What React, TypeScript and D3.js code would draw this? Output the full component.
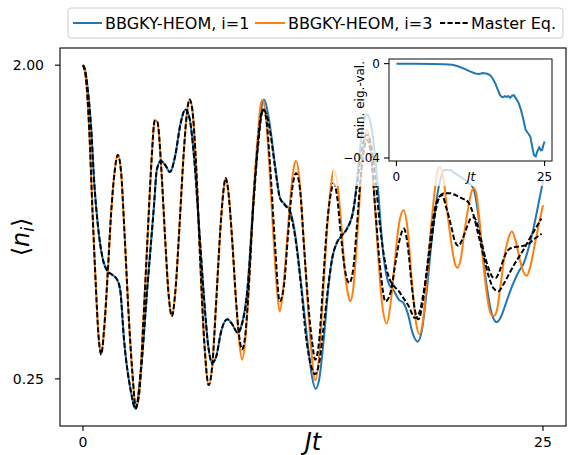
import * as d3 from 'd3';

// <n_i>(Jt), [t, value]
const bbgkyI1: [number, number][] = [
  [0, 2.0], [0.12, 1.93], [0.24, 1.739], [0.43, 1.35], [0.62, 0.903], [0.81, 0.691], [1.06, 0.558], [1.33, 0.511],
  [1.6, 0.498], [1.87, 0.481], [2.03, 0.447], [2.23, 0.324], [2.59, 0.232], [2.86, 0.205], [3.13, 0.258], [3.5, 0.46],
  [3.86, 0.79], [4.01, 0.998], [4.23, 1.06], [4.47, 1.032], [4.72, 0.985], [5.02, 1.103], [5.29, 1.348], [5.56, 1.491],
  [5.78, 1.413], [6.05, 1.067], [6.32, 0.668], [6.59, 0.418], [6.81, 0.31], [7.02, 0.278], [7.24, 0.29], [7.51, 0.343],
  [7.84, 0.371], [8.11, 0.359], [8.41, 0.339], [8.6, 0.354], [8.92, 0.447], [9.28, 0.845], [9.52, 1.22], [9.83, 1.594],
  [10.11, 1.394], [10.44, 1.032], [10.71, 0.828], [10.98, 0.795], [11.25, 0.764], [11.52, 0.659], [11.85, 0.472],
  [12.17, 0.331], [12.45, 0.253], [12.64, 0.234], [12.83, 0.248], [13.1, 0.331], [13.37, 0.478], [13.55, 0.558],
  [13.8, 0.617], [14.02, 0.642], [14.35, 0.677], [14.71, 0.774], [15.0, 1.067], [15.21, 1.348], [15.43, 1.442],
  [15.7, 1.304], [15.97, 0.965], [16.33, 0.565], [16.62, 0.469], [16.88, 0.45], [17.16, 0.423], [17.42, 0.413],
  [17.65, 0.386], [17.92, 0.338], [18.18, 0.32], [18.41, 0.343], [18.68, 0.447], [18.95, 0.625], [19.32, 0.885],
  [19.66, 0.998], [19.93, 0.998], [20.2, 0.978], [20.53, 0.952], [20.85, 0.926], [21.21, 0.885], [21.45, 0.764],
  [21.67, 0.604], [21.94, 0.463], [22.21, 0.386], [22.49, 0.364], [22.75, 0.381], [23.02, 0.418], [23.35, 0.466],
  [23.67, 0.508], [23.94, 0.536], [24.21, 0.593], [24.48, 0.677], [24.76, 0.801], [25.0, 0.926],
];

const bbgkyI3: [number, number][] = [
  [0, 2.0], [0.15, 1.85], [0.34, 1.3], [0.52, 0.75], [0.7, 0.46], [0.84, 0.335], [0.99, 0.294], [1.14, 0.343],
  [1.34, 0.5], [1.52, 0.739], [1.71, 0.978], [1.89, 1.103], [2.06, 0.998], [2.25, 0.668], [2.47, 0.391], [2.68, 0.262],
  [2.87, 0.207], [3.06, 0.229], [3.28, 0.366], [3.5, 0.625], [3.71, 1.032], [3.9, 1.385], [4.04, 1.375], [4.26, 0.998],
  [4.47, 0.625], [4.66, 0.433], [4.83, 0.379], [5.02, 0.447], [5.23, 0.668], [5.45, 1.067], [5.64, 1.442], [5.79, 1.594],
  [5.94, 1.491], [6.16, 0.998], [6.37, 0.547], [6.59, 0.32], [6.83, 0.24], [7.02, 0.271], [7.24, 0.418], [7.46, 0.668],
  [7.62, 0.856], [7.75, 0.946], [7.89, 0.873], [8.11, 0.625], [8.32, 0.418], [8.49, 0.32], [8.65, 0.284], [8.81, 0.32],
  [9.03, 0.478], [9.25, 0.817], [9.46, 1.18], [9.68, 1.561], [9.76, 1.587], [9.9, 1.491], [10.11, 1.067], [10.33, 0.668],
  [10.55, 0.447], [10.69, 0.391], [10.87, 0.447], [11.09, 0.625], [11.31, 0.873], [11.47, 1.025], [11.58, 1.06],
  [11.74, 0.965], [11.96, 0.668], [12.17, 0.447], [12.39, 0.31], [12.62, 0.248], [12.83, 0.29], [13.04, 0.433],
  [13.26, 0.668], [13.48, 0.903], [13.62, 0.998], [13.8, 0.933], [14.02, 0.714], [14.23, 0.511], [14.4, 0.439],
  [14.52, 0.418], [14.67, 0.447], [14.89, 0.625], [15.1, 0.933], [15.27, 1.18], [15.43, 1.304], [15.59, 1.22],
  [15.81, 0.873], [16.02, 0.585], [16.24, 0.418], [16.51, 0.361], [16.73, 0.418], [16.95, 0.547], [17.16, 0.691],
  [17.42, 0.764], [17.65, 0.668], [17.87, 0.478], [18.09, 0.366], [18.29, 0.336], [18.47, 0.366], [18.68, 0.478],
  [18.9, 0.668], [19.12, 0.873], [19.28, 0.998], [19.41, 1.018], [19.6, 0.933], [19.82, 0.739], [20.04, 0.604],
  [20.2, 0.54], [20.36, 0.522], [20.53, 0.554], [20.74, 0.668], [20.96, 0.79], [21.12, 0.867], [21.26, 0.885],
  [21.39, 0.845], [21.55, 0.714], [21.77, 0.529], [21.99, 0.423], [22.15, 0.386], [22.31, 0.379], [22.48, 0.391],
  [22.69, 0.463], [22.91, 0.565], [23.13, 0.637], [23.31, 0.664], [23.51, 0.625], [23.73, 0.554], [23.94, 0.508],
  [24.12, 0.495], [24.32, 0.529], [24.54, 0.604], [24.76, 0.691], [25.0, 0.79],
];

const masterI1: [number, number][] = [
  [0, 2.0], [0.12, 1.93], [0.24, 1.739], [0.43, 1.35], [0.62, 0.903], [0.81, 0.691], [1.06, 0.558], [1.33, 0.511],
  [1.6, 0.498], [1.87, 0.481], [2.03, 0.447], [2.23, 0.324], [2.59, 0.232], [2.86, 0.205], [3.13, 0.258], [3.5, 0.46],
  [3.86, 0.79], [4.01, 0.998], [4.23, 1.06], [4.47, 1.032], [4.72, 0.985], [5.02, 1.103], [5.29, 1.348], [5.56, 1.491],
  [5.78, 1.413], [6.05, 1.067], [6.32, 0.668], [6.59, 0.418], [6.81, 0.31], [7.02, 0.278], [7.24, 0.29], [7.51, 0.343],
  [7.84, 0.371], [8.11, 0.359], [8.41, 0.339], [8.6, 0.354], [8.92, 0.44], [9.28, 0.817], [9.52, 1.18], [9.79, 1.491],
  [10.01, 1.421], [10.22, 1.237], [10.44, 1.012], [10.71, 0.828], [10.98, 0.79], [11.25, 0.754], [11.52, 0.646],
  [11.85, 0.463], [12.12, 0.331], [12.34, 0.28], [12.61, 0.258], [12.83, 0.277], [13.1, 0.361], [13.37, 0.482],
  [13.55, 0.558], [13.8, 0.617], [14.02, 0.642], [14.35, 0.677], [14.67, 0.754], [14.89, 0.903], [15.1, 1.103],
  [15.27, 1.22], [15.43, 1.261], [15.65, 1.18], [15.87, 0.965], [16.14, 0.691], [16.4, 0.547], [16.68, 0.482],
  [16.89, 0.463], [17.16, 0.447], [17.43, 0.426], [17.7, 0.405], [18.05, 0.374], [18.3, 0.391], [18.57, 0.463],
  [18.9, 0.604], [19.17, 0.764], [19.4, 0.839], [19.66, 0.856], [19.95, 0.856], [20.25, 0.845], [20.58, 0.828],
  [20.94, 0.806], [21.23, 0.739], [21.5, 0.646], [21.77, 0.565], [22.04, 0.495], [22.31, 0.456], [22.57, 0.447],
  [22.86, 0.469], [23.18, 0.504], [23.46, 0.536], [23.73, 0.565], [24.0, 0.596], [24.27, 0.633], [24.59, 0.677],
  [24.91, 0.724],
];

const masterI3: [number, number][] = [
  [0, 2.0], [0.15, 1.85], [0.34, 1.3], [0.52, 0.75], [0.7, 0.46], [0.84, 0.335], [0.99, 0.294], [1.14, 0.343],
  [1.34, 0.5], [1.52, 0.739], [1.71, 0.978], [1.89, 1.103], [2.06, 0.998], [2.25, 0.668], [2.47, 0.391], [2.68, 0.262],
  [2.87, 0.207], [3.06, 0.229], [3.28, 0.366], [3.5, 0.625], [3.71, 1.032], [3.9, 1.385], [4.04, 1.375], [4.26, 0.998],
  [4.47, 0.625], [4.66, 0.433], [4.83, 0.379], [5.02, 0.447], [5.23, 0.668], [5.45, 1.067], [5.64, 1.442], [5.79, 1.594],
  [5.94, 1.491], [6.16, 0.998], [6.37, 0.547], [6.59, 0.32], [6.83, 0.24], [7.02, 0.271], [7.24, 0.418], [7.46, 0.668],
  [7.62, 0.856], [7.75, 0.946], [7.89, 0.873], [8.11, 0.625], [8.32, 0.418], [8.49, 0.331], [8.65, 0.304], [8.81, 0.331],
  [9.03, 0.478], [9.25, 0.79], [9.46, 1.126], [9.63, 1.394], [9.79, 1.491], [9.95, 1.413], [10.22, 0.933], [10.44, 0.604],
  [10.69, 0.418], [10.92, 0.463], [11.14, 0.646], [11.36, 0.873], [11.58, 0.978], [11.8, 0.873], [12.01, 0.604],
  [12.23, 0.418], [12.45, 0.32], [12.62, 0.284], [12.83, 0.32], [13.04, 0.463], [13.26, 0.691], [13.48, 0.861],
  [13.62, 0.915], [13.8, 0.845], [14.02, 0.646], [14.23, 0.518], [14.47, 0.472], [14.67, 0.511], [14.89, 0.691],
  [15.1, 0.965], [15.27, 1.141], [15.43, 1.22], [15.65, 1.103], [15.87, 0.79], [16.14, 0.529], [16.44, 0.418],
  [16.73, 0.447], [17.0, 0.547], [17.22, 0.633], [17.44, 0.677], [17.65, 0.604], [17.87, 0.463], [18.03, 0.397],
  [18.23, 0.371], [18.47, 0.418], [18.74, 0.547], [19.01, 0.714], [19.22, 0.807], [19.5, 0.845], [19.77, 0.769],
  [20.04, 0.677], [20.2, 0.625], [20.4, 0.604], [20.63, 0.633], [20.9, 0.691], [21.07, 0.724], [21.25, 0.729],
  [21.45, 0.691], [21.67, 0.617], [21.88, 0.554], [22.1, 0.511], [22.26, 0.491], [22.42, 0.488], [22.64, 0.511],
  [22.86, 0.554], [23.07, 0.585], [23.29, 0.596], [23.56, 0.6], [23.94, 0.604], [24.21, 0.612], [24.54, 0.633],
  [24.93, 0.654],
];

// inset: minimum eigenvalue
const minEig: [number, number][] = [
  [0, 0], [3, -0.0001], [6, -0.0002], [8, -0.0003], [9.5, -0.0005], [10.5, -0.0012], [11.5, -0.0022], [12.3, -0.0032],
  [13.3, -0.0042], [14, -0.0044], [14.6, -0.004], [15.3, -0.0043], [15.8, -0.0048], [16.3, -0.0065], [16.7, -0.0085],
  [17.1, -0.011], [17.5, -0.0135], [17.9, -0.0143], [18.3, -0.0138], [18.6, -0.0141], [18.9, -0.0137], [19.2, -0.0145],
  [19.5, -0.0136], [19.8, -0.0134], [20.2, -0.0148], [20.6, -0.0165], [21.0, -0.0195], [21.4, -0.0235], [21.8, -0.028],
  [22.2, -0.0295], [22.6, -0.031], [22.9, -0.035], [23.2, -0.0388], [23.5, -0.0393], [23.8, -0.037], [24.1, -0.0355],
  [24.4, -0.0368], [24.6, -0.0365], [24.8, -0.0345], [25, -0.033],
];

const xTicks = [0, 25];
const yTicks = [2.0, 0.25];
const insetYTicks = [0, -0.04];
const legendLabels = ['BBGKY-HEOM, i=1', 'BBGKY-HEOM, i=3', 'Master Eq.'];

const BLUE = '#1f77b4';
const ORANGE = '#ff7f0e';
const FONT = '"DejaVu Sans", sans-serif';
const DASH = '5.2,2.3';

export default function App() {
  const W = 568, H = 455;
  const m = { left: 60, right: 566, top: 48, bottom: 426 };

  const x = d3.scaleLinear().domain([-1.25, 26.25]).range([m.left, m.right]);

  // log axis with matplotlib-style 5% margins
  const all = [...bbgkyI1, ...bbgkyI3, ...masterI1, ...masterI3].map(d => Math.log10(d[1]));
  const lo = d3.min(all)!, hi = d3.max(all)!;
  const pad = (hi - lo) * 0.05;
  const y = d3.scaleLog().domain([10 ** (lo - pad), 10 ** (hi + pad)]).range([m.bottom, m.top]);

  const line = d3.line<[number, number]>()
    .x(d => x(d[0]))
    .y(d => y(d[1]))
    .curve(d3.curveMonotoneX);

  // inset
  const ins = { left: 389, right: 552, top: 59, bottom: 161 };
  const ix = d3.scaleLinear().domain([-1.25, 26.25]).range([ins.left, ins.right]);
  const eMin = d3.min(minEig, d => d[1])!, eMax = d3.max(minEig, d => d[1])!;
  const ePad = (eMax - eMin) * 0.05;
  const iy = d3.scaleLinear().domain([eMin - ePad, eMax + ePad]).range([ins.bottom, ins.top]);
  const iline = d3.line<[number, number]>().x(d => ix(d[0])).y(d => iy(d[1])).curve(d3.curveLinear);

  const fmtY = d3.format('.2f');
  const fmtInset = (v: number) => (v === 0 ? '0' : d3.format('.2f')(v).replace('-', '\u2212'));

  return (
    <svg width={W} height={H} style={{ display: 'block', position: 'absolute', left: 0, top: 0, background: 'white' }}
      fontFamily={FONT}>
      <rect x={0} y={0} width={W} height={H} fill="white" />
      <defs>
        <clipPath id="plotClip">
          <rect x={m.left} y={m.top} width={m.right - m.left} height={m.bottom - m.top} />
        </clipPath>
      </defs>

      <g clipPath="url(#plotClip)">
        <path d={line(bbgkyI1)!} fill="none" stroke={BLUE} strokeWidth={2} />
        <path d={line(bbgkyI3)!} fill="none" stroke={ORANGE} strokeWidth={2} />
        <path d={line(masterI1)!} fill="none" stroke="black" strokeWidth={2} strokeDasharray={DASH} />
        <path d={line(masterI3)!} fill="none" stroke="black" strokeWidth={2} strokeDasharray={DASH} />
      </g>

      {/* main frame */}
      <rect x={m.left} y={m.top} width={m.right - m.left} height={m.bottom - m.top} fill="none" stroke="black" strokeWidth={1.1} />

      {xTicks.map(t => (
        <g key={'xt' + t}>
          <line x1={x(t)} x2={x(t)} y1={m.bottom} y2={m.bottom + 5} stroke="black" strokeWidth={1.1} />
          <text x={x(t)} y={m.bottom + 21} textAnchor="middle" fontSize={14}>{t}</text>
        </g>
      ))}
      {yTicks.map(v => (
        <g key={'yt' + v}>
          <line x1={m.left - 5} x2={m.left} y1={y(v)} y2={y(v)} stroke="black" strokeWidth={1.1} />
          <text x={m.left - 16} y={y(v)} dy="0.36em" textAnchor="end" fontSize={14}>{fmtY(v)}</text>
        </g>
      ))}

      <text x={(m.left + m.right) / 2} y={450} textAnchor="middle" fontSize={24} fontStyle="italic">Jt</text>
      <text transform={`translate(29,${(m.top + m.bottom) / 2}) rotate(-90)`} textAnchor="middle" fontSize={24}>
        ⟨<tspan fontStyle="italic">n</tspan><tspan fontStyle="italic" fontSize={17} dy="5">i</tspan><tspan dy="-5">⟩</tspan>
      </text>

      {/* inset with its semi-opaque background */}
      <rect x={333} y={50} width={229} height={136} fill="white" fillOpacity={0.75} />
      <rect x={ins.left} y={ins.top} width={ins.right - ins.left} height={ins.bottom - ins.top} fill="white" />
      <path d={iline(minEig)!} fill="none" stroke={BLUE} strokeWidth={2} />
      <rect x={ins.left} y={ins.top} width={ins.right - ins.left} height={ins.bottom - ins.top} fill="none" stroke="#222" strokeWidth={1.1} />
      {xTicks.map(t => (
        <g key={'ixt' + t}>
          <line x1={ix(t)} x2={ix(t)} y1={ins.bottom} y2={ins.bottom + 5} stroke="black" strokeWidth={1.1} />
          <text x={ix(t)} y={ins.bottom + 20} textAnchor="middle" fontSize={12}>{t}</text>
        </g>
      ))}
      {insetYTicks.map(v => (
        <g key={'iyt' + v}>
          <line x1={ins.left - 5} x2={ins.left} y1={iy(v)} y2={iy(v)} stroke="black" strokeWidth={1.1} />
          <text x={ins.left - 9} y={iy(v)} dy="0.36em" textAnchor="end" fontSize={12}>{fmtInset(v)}</text>
        </g>
      ))}
      <text x={471} y={ins.bottom + 20} textAnchor="middle" fontSize={12} fontStyle="italic">Jt</text>
      <text transform={`translate(364,100) rotate(-90)`} textAnchor="middle" fontSize={12}>min. eig.-val.</text>

      {/* legend */}
      <rect x={68} y={8} width={495} height={30} rx={3} fill="white" fillOpacity={0.8} stroke="#cccccc" strokeWidth={1} />
      <line x1={73} x2={102} y1={23} y2={23} stroke={BLUE} strokeWidth={2} />
      <text x={105} y={28.5} fontSize={16}>{legendLabels[0]}</text>
      <line x1={255} x2={285} y1={23} y2={23} stroke={ORANGE} strokeWidth={2} />
      <text x={288} y={28.5} fontSize={16}>{legendLabels[1]}</text>
      <line x1={440} x2={468} y1={23} y2={23} stroke="black" strokeWidth={2} strokeDasharray={DASH} />
      <text x={471} y={28.5} fontSize={16}>{legendLabels[2]}</text>
    </svg>
  );
}
